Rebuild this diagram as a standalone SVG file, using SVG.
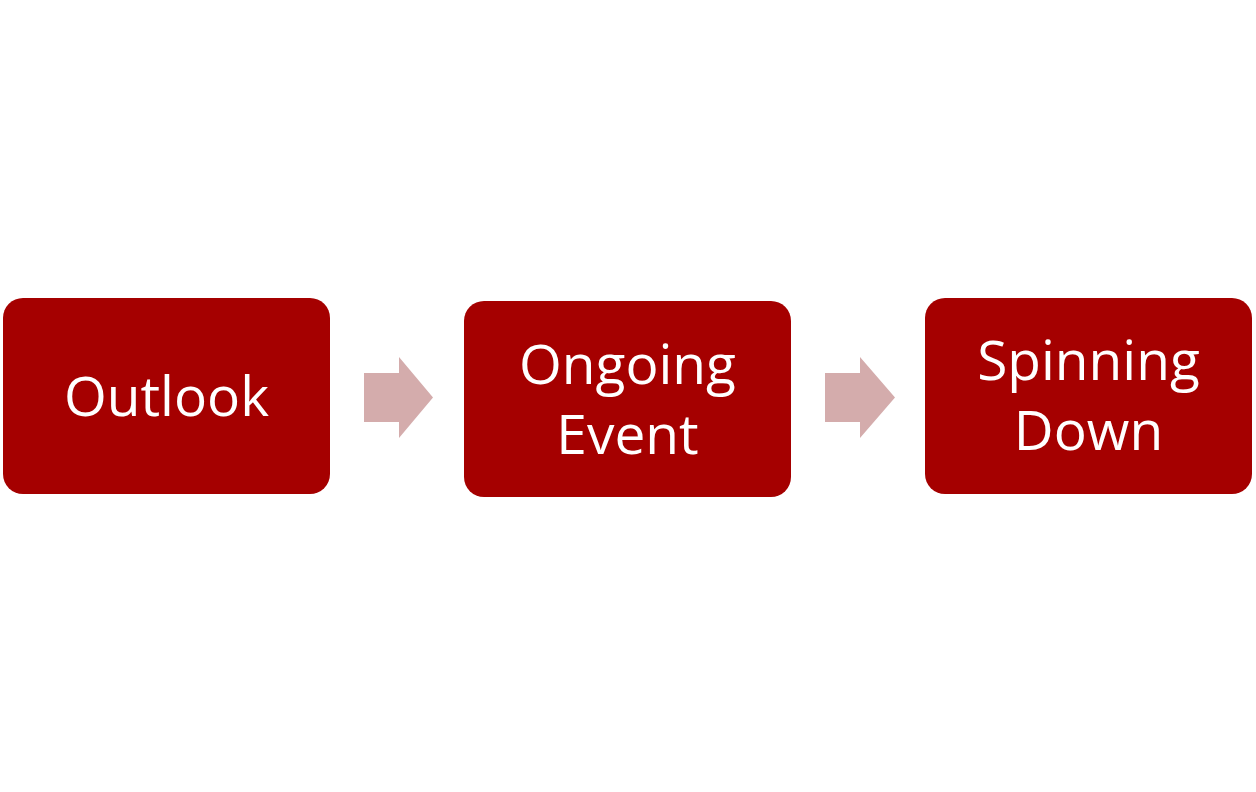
<svg xmlns="http://www.w3.org/2000/svg" width="1256" height="792" viewBox="0 0 1256 792">
<style>
.box{fill:#A50000;}
.arr{fill:#D4ACAC;}
.lbl{fill:#FFFFFF;font-family:"Open Sans","Noto Sans",sans-serif;font-size:55px;text-anchor:middle;}
</style>
<rect width="1256" height="792" fill="#FFFFFF"/>
<g id="connectors">
<polygon class="arr" points="364,373 399,373 399,357 433,397.5 399,438 399,422 364,422"/>
<polygon class="arr" points="825,373 860,373 860,357 895,397.5 860,438 860,422 825,422"/>
</g>
<g id="node-outlook">
<rect class="box" x="3" y="298" width="327" height="196" rx="20"/>
<text class="lbl" x="166.5" y="416">Outlook</text>
</g>
<g id="node-ongoing">
<rect class="box" x="464" y="301" width="327" height="196" rx="20"/>
<text class="lbl" x="627.5" y="384">Ongoing</text>
<text class="lbl" x="627.5" y="454">Event</text>
</g>
<g id="node-spinning">
<rect class="box" x="925" y="298" width="327" height="196" rx="20"/>
<text class="lbl" x="1088.5" y="380">Spinning</text>
<text class="lbl" x="1088.5" y="450">Down</text>
</g>
</svg>
